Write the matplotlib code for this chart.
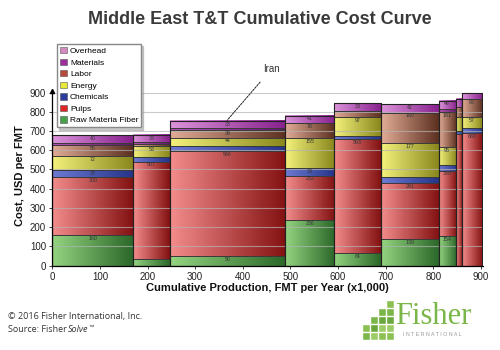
import matplotlib.pyplot as plt
import numpy as np
from matplotlib.colors import LinearSegmentedColormap
from matplotlib.patches import Patch, Rectangle

# mill widths (capacity, FMT/yr x1000) and cost components (USD/FMT)
widths = [170, 77, 242, 103, 98, 121, 36, 13, 42]
fiber = [160, 34, 50, 236, 64, 139, 154, 0, 0]
pulps = [300, 507, 546, 232, 593, 291, 340, 685, 688]
chemicals = [38, 26, 26, 38, 17, 29, 28, 17, 26]
energy = [72, 53, 44, 155, 97, 177, 95, 73, 57]
labor = [56, 10, 39, 78, 35, 160, 181, 48, 96]
materials = [14, 12, 8, 0, 0, 0, 14, 0, 0]
overhead = [40, 38, 38, 41, 38, 42, 46, 43, 31]

components = ['Raw Materia Fiber', 'Pulps', 'Chemicals', 'Energy',
              'Labor', 'Materials', 'Overhead']
series = [fiber, pulps, chemicals, energy, labor, materials, overhead]

# gradient light -> dark (left -> right) for bar fills
grad_colors = [('#94d480', '#2c682a'), ('#f48c8c', '#841212'),
               ('#6e7ad2', '#26348a'), ('#f4f27c', '#8a881c'),
               ('#e2ac96', '#5c3020'), ('#b452b4', '#5e1866'),
               ('#dc94da', '#88228e')]
legend_colors = ['#48a048', '#e02424', '#2c3c9c', '#e8e838',
                 '#b44a3a', '#9c2f9c', '#d48cc0']

plt.rcParams['font.family'] = ['Liberation Sans', 'DejaVu Sans']

fig = plt.figure(figsize=(5, 3.5), dpi=100)
ax = fig.add_axes([0.1046, 0.2414, 0.862, 0.4997])

lefts = np.concatenate([[0], np.cumsum(widths)[:-1]])
bottom = np.zeros(len(widths))
grad = np.linspace(0, 1, 64).reshape(1, -1)

for name, vals, (c0, c1) in zip(components, series, grad_colors):
    vals = np.array(vals, dtype=float)
    cmap = LinearSegmentedColormap.from_list(name, [c0, c1])
    for x0, w, b, v in zip(lefts, widths, bottom, vals):
        if v <= 0:
            continue
        ax.imshow(grad, extent=[x0, x0 + w, b, b + v], cmap=cmap,
                  aspect='auto', interpolation='bilinear', zorder=2)
    ax.bar(lefts, vals, width=widths, bottom=bottom, align='edge',
           fill=False, edgecolor='#3a3a3a', linewidth=0.6, zorder=3)
    if name != 'Materials':
        for x0, w, b, v in zip(lefts, widths, bottom, vals):
            if w >= 30 and v >= 36:
                ax.text(x0 + w / 2, b + v - 4, f'{int(v)}', ha='center',
                        va='top', fontsize=3.8, color='#333333', zorder=4)
    bottom = bottom + vals

# bar outlines
ax.bar(lefts, bottom, width=widths, align='edge', fill=False,
       edgecolor='#222222', linewidth=0.8, zorder=3)

ax.set_xlim(0, 905)
ax.set_ylim(0, 910)
ax.set_xticks(range(0, 1000, 100))
ax.set_yticks(range(0, 1000, 100))
ax.tick_params(labelsize=7, length=2.5, width=0.6, colors='#222222', pad=2)
ax.set_axisbelow(False)
ax.yaxis.grid(True, color='#b4b4b4', linewidth=0.8, alpha=0.7)
for s in ['top', 'right']:
    ax.spines[s].set_visible(False)
for s in ['left', 'bottom']:
    ax.spines[s].set_linewidth(0.9)
    ax.spines[s].set_zorder(5)
ax.plot(0, 910, marker='^', ms=3, color='k', clip_on=False, zorder=6)

ax.annotate('Iran', xy=(367, 755), xytext=(460, 1022), fontsize=7,
            ha='center', va='center', color='#333333', annotation_clip=False,
            arrowprops=dict(arrowstyle='-', linestyle=(0, (2, 1.2)),
                            color='#222222', lw=0.7, shrinkA=5, shrinkB=0))

handles = [Patch(facecolor=c, edgecolor='#555555', linewidth=0.4, label=n)
           for n, c in zip(components[::-1], legend_colors[::-1])]
fig.legend(handles=handles, loc='upper left', bbox_to_anchor=(57 / 500, 1 - 44 / 350),
           fontsize=6, frameon=True, shadow={'ox': 1.5, 'oy': -1.5, 'color': '#999999'},
           fancybox=False, edgecolor='#888888', handlelength=0.8, handleheight=0.8,
           handletextpad=0.4, labelspacing=0.42, borderpad=0.35,
           borderaxespad=0)

fig.text(0.52, 1 - 20 / 350, 'Middle East T&T Cumulative Cost Curve',
         ha='center', va='center', fontsize=13, weight='bold', color='#3a3a3a')
fig.text(20 / 500, 1 - 176 / 350, 'Cost, USD per FMT', rotation=90,
         ha='center', va='center', fontsize=8, weight='bold', color='#111111')
fig.text(267 / 500, 1 - 288 / 350, 'Cumulative Production, FMT per Year (x1,000)',
         ha='center', va='center', fontsize=8, weight='bold', color='#111111')

# footer
renderer = fig.canvas.get_renderer()
foot = dict(fontsize=6.5, color='#333333', family=['Open Sans', 'DejaVu Sans'],
            va='center', ha='left')
fig.text(8 / 500, 1 - 316 / 350, '\u00a9 2016 Fisher International, Inc.', **foot)
t1 = fig.text(8 / 500, 1 - 330 / 350, 'Source: Fisher', **foot)
x1 = t1.get_window_extent(renderer).x1 / 500
t2 = fig.text(x1 + 1 / 500, 1 - 330 / 350, 'Solve', style='italic', **foot)
x2 = t2.get_window_extent(renderer).x1 / 500
fig.text(x2, 1 - 327 / 350, '\u2122', fontsize=4, color='#333333',
         va='center', ha='left')

# logo
green = ['#8cc152', '#7ab648', '#6aa83e', '#9ccc65']
squares = [(387, 301, 7), (387, 309, 7), (387, 317, 7), (387, 325, 7), (387, 333, 7),
           (379, 309, 7), (379, 317, 7), (379, 325, 7), (379, 333, 7),
           (371, 317, 7), (371, 325, 7), (371, 333, 7),
           (363, 325, 7), (363, 333, 7)]
for i, (x, y, s) in enumerate(squares):
    fig.patches.append(Rectangle((x / 500, 1 - (y + s) / 350), s / 500, s / 350,
                                 transform=fig.transFigure, facecolor=green[i % 4],
                                 edgecolor='white', linewidth=0.3))
fig.text(395 / 500, 1 - 324 / 350, 'Fisher', fontsize=22, color='#7ab648',
         family=['Liberation Serif', 'DejaVu Serif'], va='baseline', ha='left')
fig.text(403 / 500, 1 - 335 / 350, 'I N T E R N A T I O N A L', fontsize=3.8,
         color='#999999', va='center', ha='left')

fig.savefig('out.png', dpi=100)
